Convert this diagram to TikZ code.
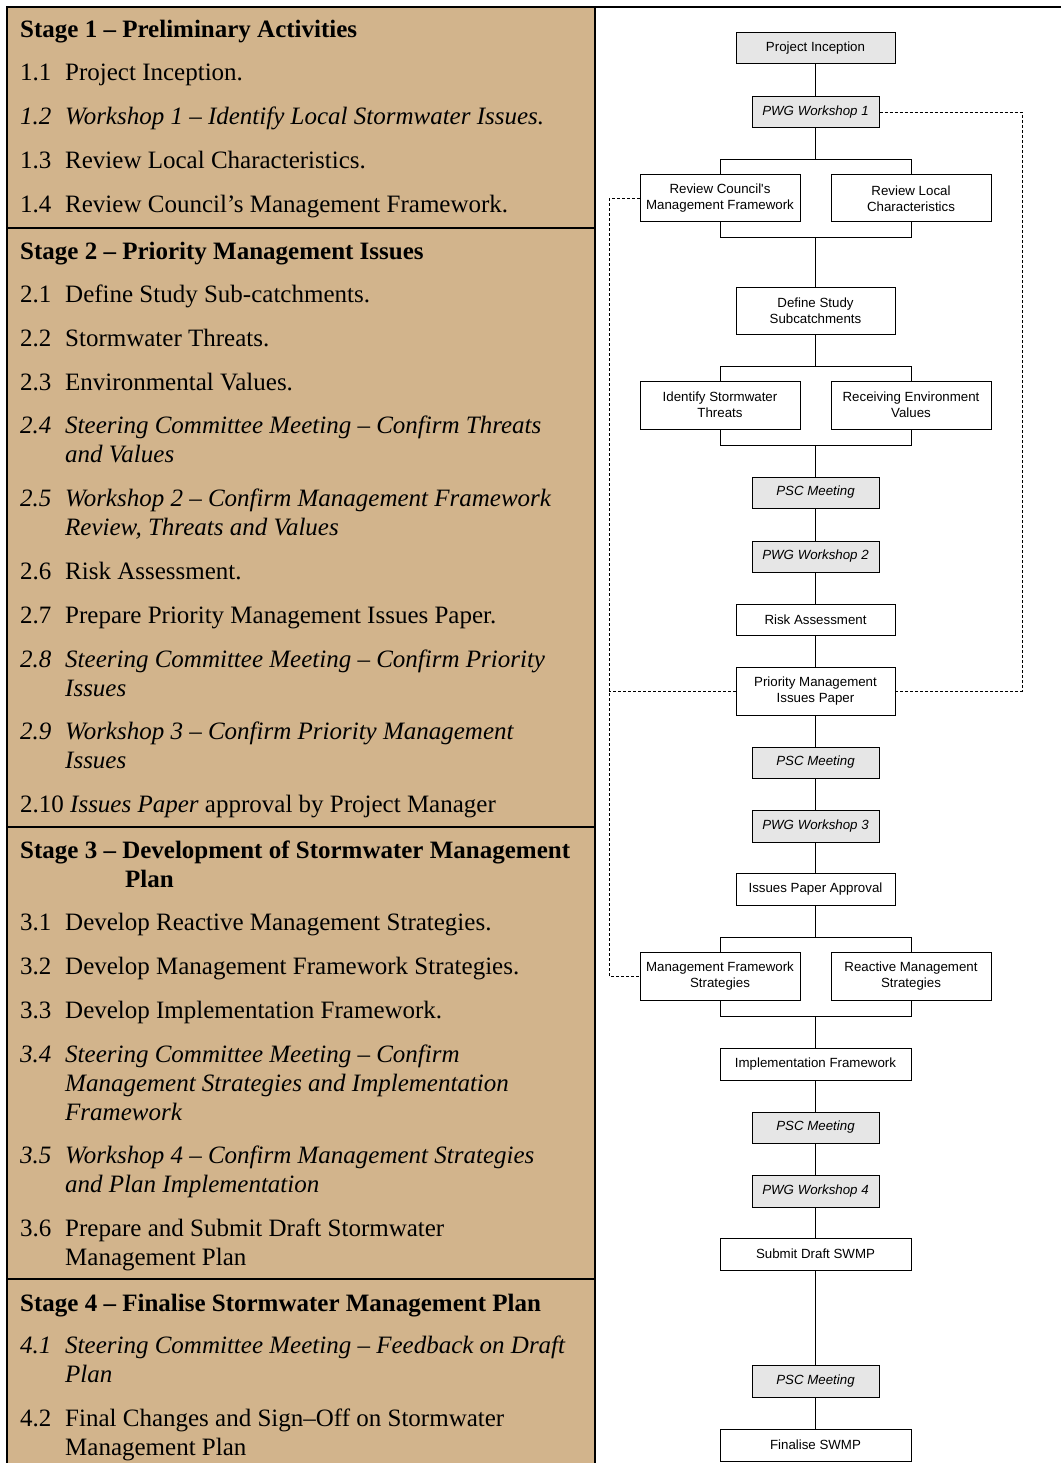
\documentclass[tikz,border=0pt]{standalone}
\usepackage{fontspec}
\setmainfont{Liberation Serif}
\newfontfamily\arialf{Liberation Sans}
\definecolor{tanbg}{HTML}{D2B48C}
\definecolor{boxgray}{HTML}{E6E6E6}
\begin{document}
\begin{tikzpicture}[x=1pt,y=-1pt,
  lt/.style={anchor=base west,inner sep=0pt,font=\fontsize{25}{29}\selectfont},
  hd/.style={anchor=base west,inner sep=0pt,font=\fontsize{25}{29}\selectfont\bfseries},
  itl/.style={anchor=base west,inner sep=0pt,font=\fontsize{25}{29}\selectfont\itshape},
  frame/.style={line width=2pt},
  fbox/.style={draw,line width=1pt,inner sep=0pt,align=center,minimum width=159pt,minimum height=31pt,font=\arialf\fontsize{13.3}{16}\selectfont},
  gbox/.style={fbox,fill=boxgray,minimum width=127pt,font=\arialf\itshape\fontsize{13.3}{16}\selectfont},
  tbox/.style={fbox,minimum width=160pt,minimum height=47pt},
  wbox/.style={fbox,minimum width=191pt,minimum height=32pt},
  conn/.style={line width=1pt},
  dsh/.style={line width=0.9pt,dash pattern=on 3pt off 2pt}]
\useasboundingbox (0,0) rectangle (1061,1463);
% left panel
\fill[tanbg] (7,7) rectangle (595,1463);
\draw[frame] (7,1463) -- (7,7) -- (1061,7);
\draw[frame] (595,7) -- (595,1463);
\draw[frame] (7,228) -- (595,228);
\draw[frame] (7,827) -- (595,827);
\draw[frame] (7,1279) -- (595,1279);
% Stage 1
\node[hd] (s1) at (20,38) {Stage 1 – Preliminary Activities};
\node[lt] (n11) at (20,81) {1.1}; \node[lt] (t11) at (65,81) {Project Inception.};
\node[itl] (n12) at (20,125) {1.2}; \node[itl] (t12) at (65,125) {Workshop 1 – Identify Local Stormwater Issues.};
\node[lt] (n13) at (20,169) {1.3}; \node[lt] (t13) at (65,169) {Review Local Characteristics.};
\node[lt] (n14) at (20,213) {1.4}; \node[lt] (t14) at (65,213) {Review Council’s Management Framework.};
% Stage 2
\node[hd] (s2) at (20,259) {Stage 2 – Priority Management Issues};
\node[lt] (n21) at (20,302) {2.1}; \node[lt] (t21) at (65,302) {Define Study Sub-catchments.};
\node[lt] (n22) at (20,346) {2.2}; \node[lt] (t22) at (65,346) {Stormwater Threats.};
\node[lt] (n23) at (20,390) {2.3}; \node[lt] (t23) at (65,390) {Environmental Values.};
\node[itl] (n24) at (20,433) {2.4}; \node[itl] (t24) at (65,433) {Steering Committee Meeting – Confirm Threats};
\node[itl] (t24b) at (65,462) {and Values};
\node[itl] (n25) at (20,506) {2.5}; \node[itl] (t25) at (65,506) {Workshop 2 – Confirm Management Framework};
\node[itl] (t25b) at (65,535) {Review, Threats and Values};
\node[lt] (n26) at (20,579) {2.6}; \node[lt] (t26) at (65,579) {Risk Assessment.};
\node[lt] (n27) at (20,623) {2.7}; \node[lt] (t27) at (65,623) {Prepare Priority Management Issues Paper.};
\node[itl] (n28) at (20,667) {2.8}; \node[itl] (t28) at (65,667) {Steering Committee Meeting – Confirm Priority};
\node[itl] (t28b) at (65,696) {Issues};
\node[itl] (n29) at (20,739) {2.9}; \node[itl] (t29) at (65,739) {Workshop 3 – Confirm Priority Management};
\node[itl] (t29b) at (65,768) {Issues};
\node[lt] (n210) at (20,812) {2.10 \textit{Issues Paper} approval by Project Manager};
% Stage 3
\node[hd] (s3) at (20,858) {Stage 3 – Development of Stormwater Management};
\node[hd] (s3b) at (125,887) {Plan};
\node[lt] (n31) at (20,930) {3.1}; \node[lt] (t31) at (65,930) {Develop Reactive Management Strategies.};
\node[lt] (n32) at (20,974) {3.2}; \node[lt] (t32) at (65,974) {Develop Management Framework Strategies.};
\node[lt] (n33) at (20,1018) {3.3}; \node[lt] (t33) at (65,1018) {Develop Implementation Framework.};
\node[itl] (n34) at (20,1062) {3.4}; \node[itl] (t34) at (65,1062) {Steering Committee Meeting – Confirm};
\node[itl] (t34b) at (65,1091) {Management Strategies and Implementation};
\node[itl] (t34c) at (65,1120) {Framework};
\node[itl] (n35) at (20,1163) {3.5}; \node[itl] (t35) at (65,1163) {Workshop 4 – Confirm Management Strategies};
\node[itl] (t35b) at (65,1192) {and Plan Implementation};
\node[lt] (n36) at (20,1236) {3.6}; \node[lt] (t36) at (65,1236) {Prepare and Submit Draft Stormwater};
\node[lt] (t36b) at (65,1265) {Management Plan};
% Stage 4
\node[hd] (s4) at (20,1311) {Stage 4 – Finalise Stormwater Management Plan};
\node[itl] (n41) at (20,1353) {4.1}; \node[itl] (t41) at (65,1353) {Steering Committee Meeting – Feedback on Draft};
\node[itl] (t41b) at (65,1382) {Plan};
\node[lt] (n42) at (20,1426) {4.2}; \node[lt] (t42) at (65,1426) {Final Changes and Sign–Off on Stormwater};
\node[lt] (t42b) at (65,1455) {Management Plan};
% Flowchart nodes
\node[fbox,fill=boxgray] (pi) at (815.5,48.5) {Project Inception};
\node[gbox] (w1) at (815.5,112.5) {PWG Workshop 1};
\node[tbox] (rc) at (720,198.5) {Review Council's\\Management Framework};
\node[tbox] (rl) at (911,198.5) {Review Local\\Characteristics};
\node[fbox,minimum height=47pt] (ds) at (815.5,310.5) {Define Study\\Subcatchments};
\node[tbox,minimum height=48pt] (ist) at (720,405) {Identify Stormwater\\Threats};
\node[tbox,minimum height=48pt] (rev) at (911,405) {Receiving Environment\\Values};
\node[gbox] (psc1) at (815.5,492.5) {PSC Meeting};
\node[gbox] (w2) at (815.5,556.5) {PWG Workshop 2};
\node[fbox] (ra) at (815.5,619.5) {Risk Assessment};
\node[fbox,minimum height=48pt] (pm) at (815.5,691) {Priority Management\\Issues Paper};
\node[gbox] (psc2) at (815.5,762.5) {PSC Meeting};
\node[gbox,minimum height=32pt] (w3) at (815.5,826) {PWG Workshop 3};
\node[fbox,minimum height=32pt] (ipa) at (815.5,889) {Issues Paper Approval};
\node[tbox,minimum height=48pt] (mf) at (720,976) {Management Framework\\Strategies};
\node[tbox,minimum height=48pt] (rm) at (911,976) {Reactive Management\\Strategies};
\node[wbox] (impf) at (815.5,1064) {Implementation Framework};
\node[gbox] (psc3) at (815.5,1127.5) {PSC Meeting};
\node[gbox,minimum height=32pt] (w4) at (815.5,1191) {PWG Workshop 4};
\node[wbox] (sd) at (815.5,1254) {Submit Draft SWMP};
\node[gbox,minimum height=32pt] (psc4) at (815.5,1381) {PSC Meeting};
\node[wbox] (fin) at (815.5,1445) {Finalise SWMP};
% branch coordinates
\coordinate (b1) at (815.5,160);
\coordinate (j1) at (815.5,238);
\coordinate (b2) at (815.5,366);
\coordinate (j2) at (815.5,445);
\coordinate (b3) at (815.5,937);
\coordinate (j3) at (815.5,1016);
\coordinate (dr) at (1022,400);
\coordinate (dl) at (609,600);
% connectors
\draw[conn] (pi) -- (w1);
\draw[conn] (w1) -- (b1);
\draw[conn] (rc.north) -- (rc.north |- b1) -- (rl.north |- b1) -- (rl.north);
\draw[conn] (rc.south) -- (rc.south |- j1) -- (rl.south |- j1) -- (rl.south);
\draw[conn] (j1) -- (ds);
\draw[conn] (ds) -- (b2);
\draw[conn] (ist.north) -- (ist.north |- b2) -- (rev.north |- b2) -- (rev.north);
\draw[conn] (ist.south) -- (ist.south |- j2) -- (rev.south |- j2) -- (rev.south);
\draw[conn] (j2) -- (psc1);
\draw[conn] (psc1) -- (w2);
\draw[conn] (w2) -- (ra);
\draw[conn] (ra) -- (pm);
\draw[conn] (pm) -- (psc2);
\draw[conn] (psc2) -- (w3);
\draw[conn] (w3) -- (ipa);
\draw[conn] (ipa) -- (b3);
\draw[conn] (mf.north) -- (mf.north |- b3) -- (rm.north |- b3) -- (rm.north);
\draw[conn] (mf.south) -- (mf.south |- j3) -- (rm.south |- j3) -- (rm.south);
\draw[conn] (j3) -- (impf);
\draw[conn] (impf) -- (psc3);
\draw[conn] (psc3) -- (w4);
\draw[conn] (w4) -- (sd);
\draw[conn] (sd) -- (psc4);
\draw[conn] (psc4) -- (fin);
% dashed links
\draw[dsh] (w1.east) -| (dr) |- (pm.east);
\draw[dsh] (rc.west) -| (dl) |- (mf.west);
\draw[dsh] (pm.west) -- (pm.west -| dl);
\end{tikzpicture}
\end{document}
